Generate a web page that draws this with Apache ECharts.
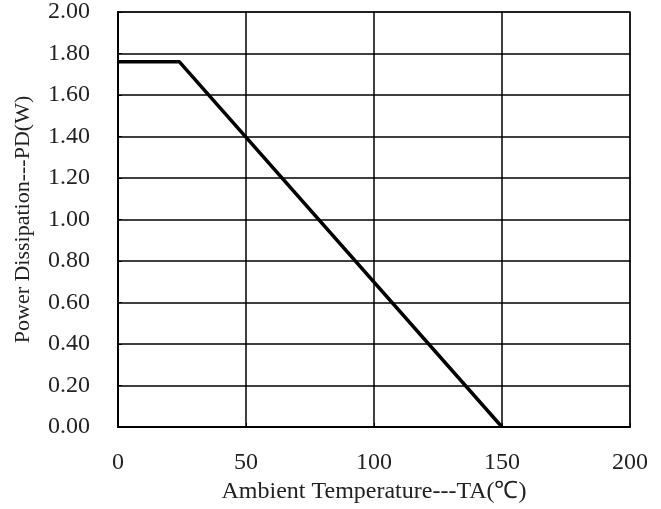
<!DOCTYPE html>
<html><head><meta charset="utf-8">
<script src="https://cdn.jsdelivr.net/npm/echarts@6/dist/echarts.min.js"></script>
<style>html,body{margin:0;padding:0;background:#fff}#c{width:661px;height:509px}</style>
</head><body><div id="c"></div>
<script>
var tempValues = [0, 24, 150];
var powerValues = [1.76, 1.76, 0];
var xTitle = 'Ambient Temperature---TA(\u2103)';
var yTitle = 'Power Dissipation---PD(W)';
var FONT = '"Liberation Serif", "Times New Roman", serif';
var chart = echarts.init(document.getElementById('c'));
chart.setOption({
  animation: false,
  grid: {left: 118, right: 31, top: 11, bottom: 82, show: true, borderColor: '#808080', borderWidth: 2},
  xAxis: {
    type: 'value', min: 0, max: 200, interval: 50,
    name: xTitle, nameLocation: 'middle', nameGap: 52,
    nameTextStyle: {fontFamily: FONT, fontSize: 24, color: '#222'},
    axisLine: {lineStyle: {color: '#000', width: 2}},
    axisTick: {show: true, inside: true, length: 4, lineStyle: {color: '#000'}},
    axisLabel: {fontFamily: FONT, fontSize: 24, color: '#222', margin: 24},
    splitLine: {show: true, lineStyle: {color: '#000', width: 1.5}}
  },
  yAxis: {
    type: 'value', min: 0, max: 2, interval: 0.2,
    name: yTitle, nameLocation: 'middle', nameGap: 84, nameRotate: 90,
    nameTextStyle: {fontFamily: FONT, fontSize: 22, color: '#222'},
    axisLine: {lineStyle: {color: '#000', width: 2}},
    axisTick: {show: true, inside: true, length: 4, lineStyle: {color: '#000'}},
    axisLabel: {fontFamily: FONT, fontSize: 24, color: '#222', margin: 28,
      formatter: function(v){ return v.toFixed(2); }},
    splitLine: {show: true, lineStyle: {color: '#000', width: 1.5}}
  },
  series: [{
    type: 'line', data: tempValues.map(function(t,i){return [t, powerValues[i]];}),
    showSymbol: false, lineStyle: {color: '#000', width: 3.5}
  }]
});
</script></body></html>
